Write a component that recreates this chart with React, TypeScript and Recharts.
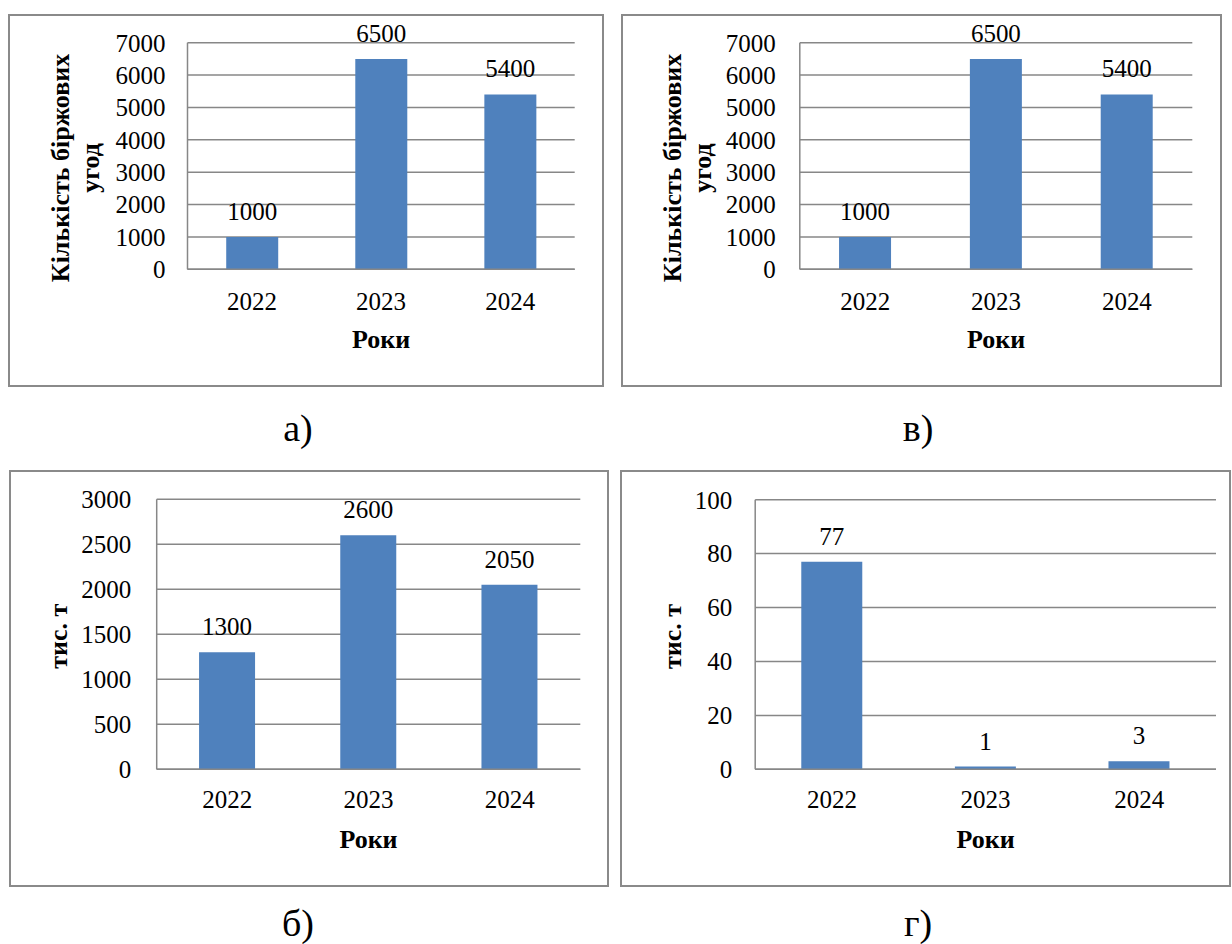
import React from 'react';
import { BarChart, Bar, XAxis, YAxis, CartesianGrid, LabelList, Label } from 'recharts';

// years on the x axis (same for all four panels)
const years = ['2022', '2023', '2024'];

// а) and в) - number of exchange deals
const dealsA = [1000, 6500, 5400];
const dealsV = [1000, 6500, 5400];
const dealTicks = [0, 1000, 2000, 3000, 4000, 5000, 6000, 7000];

// б) and г) - thousand tonnes
const tonsB = [1300, 2600, 2050];
const tonsG = [77, 1, 3];
const tonTicksB = [0, 500, 1000, 1500, 2000, 2500, 3000];
const tonTicksG = [0, 20, 40, 60, 80, 100];

const dealsTitle = ['Кількість біржових', 'угод'];
const tonsTitle = ['тис. т'];
const xTitle = 'Роки';

const FONT = "Liberation Serif, Times New Roman, Times, Tinos, Nimbus Roman, DejaVu Serif, serif";
const GRID = '#878787';
const BAR = '#4F81BD';

type Margins = { left: number; top: number; right: number; bottom: number };

interface PanelProps {
  values: number[];
  ticks: number[];
  title: string[];
  box: { left: number; top: number; width: number; height: number };
  plot: Margins;
  titleX: number[];
  titleY: number;
  yTickGap: number;
  xTickGap: number;
}

const Panel: React.FC<PanelProps> = ({ values, ticks, title, box, plot, titleX, titleY, yTickGap, xTickGap }) => {
  const data = years.map((year, i) => ({ year, value: values[i] }));
  const plotW = box.width - plot.left - plot.right;
  const plotH = box.height - plot.top - plot.bottom;
  const tick = { fill: '#000', fontSize: 25, fontFamily: FONT };

  const renderXTitle = () => (
    <text
      x={plot.left + plotW / 2}
      y={plot.top + plotH + 78.7}
      textAnchor="middle"
      style={{ fontFamily: FONT }}
      fontSize={26}
      fontWeight="bold"
      fill="#000"
    >
      {xTitle}
    </text>
  );

  const renderYTitle = () => {
    const cy = plot.top + plotH / 2 + titleY;
    return (
      <g>
        {title.map((line, i) => (
          <text
            key={line}
            x={titleX[i]}
            y={cy}
            transform={`rotate(-90 ${titleX[i]} ${cy})`}
            textAnchor="middle"
            style={{ fontFamily: FONT }}
            fontSize={26}
            fontWeight="bold"
            fill="#000"
          >
            {line}
          </text>
        ))}
      </g>
    );
  };

  return (
    <div
      style={{
        position: 'absolute',
        left: box.left,
        top: box.top,
        width: box.width,
        height: box.height,
        boxShadow: 'inset 0 0 0 2px #8a8a8a',
        fontFamily: FONT,
      }}
    >
      <BarChart
        width={box.width}
        height={box.height}
        data={data}
        margin={{ top: plot.top, right: plot.right, left: 0, bottom: 0 }}
        barCategoryGap="30%"
        style={{ fontFamily: FONT }}
      >
        <CartesianGrid vertical={false} stroke={GRID} strokeWidth={1.5} />
        <XAxis
          dataKey="year"
          height={plot.bottom}
          interval={0}
          tickLine={false}
          tickSize={0}
          tickMargin={xTickGap}
          axisLine={{ stroke: GRID, strokeWidth: 1.5 }}
          tick={tick}
        >
          <Label content={renderXTitle} />
        </XAxis>
        <YAxis
          width={plot.left}
          domain={[0, ticks[ticks.length - 1]]}
          ticks={ticks}
          interval={0}
          tickLine={false}
          tickSize={0}
          tickMargin={yTickGap}
          axisLine={{ stroke: GRID, strokeWidth: 1.5 }}
          tick={tick}
        >
          <Label content={renderYTitle} />
        </YAxis>
        <Bar dataKey="value" fill={BAR} isAnimationActive={false}>
          <LabelList dataKey="value" position="top" offset={17} fill="#000" fontSize={25} fontFamily={FONT} />
        </Bar>
      </BarChart>
    </div>
  );
};

const Caption: React.FC<{ text: string; x: number; baseline: number }> = ({ text, x, baseline }) => (
  <div
    style={{
      position: 'absolute',
      left: x - 40,
      top: baseline - 32,
      width: 80,
      textAlign: 'center',
      fontFamily: FONT,
      fontSize: 38,
      lineHeight: '38px',
      color: '#000',
    }}
  >
    {text}
  </div>
);

export default function App() {
  return (
    <div style={{ position: 'absolute', left: 0, top: 0, width: 1232, height: 944, background: '#fff', fontFamily: FONT }}>
      <Panel
        values={dealsA}
        ticks={dealTicks}
        title={dealsTitle}
        box={{ left: 8, top: 14, width: 596, height: 373 }}
        plot={{ left: 179.5, top: 28.7, right: 29.3, bottom: 117.7 }}
        titleX={[61, 91]}
        titleY={12}
        yTickGap={22}
        xTickGap={23}
      />
      <Panel
        values={dealsV}
        ticks={dealTicks}
        title={dealsTitle}
        box={{ left: 620.7, top: 14, width: 601.3, height: 373 }}
        plot={{ left: 178.8, top: 28.7, right: 30, bottom: 117.7 }}
        titleX={[60.5, 90.5]}
        titleY={12}
        yTickGap={24}
        xTickGap={23}
      />
      <Panel
        values={tonsB}
        ticks={tonTicksB}
        title={tonsTitle}
        box={{ left: 9, top: 470, width: 600, height: 417 }}
        plot={{ left: 147.7, top: 29.3, right: 28.7, bottom: 117.7 }}
        titleX={[58.5]}
        titleY={2}
        yTickGap={25.5}
        xTickGap={21}
      />
      <Panel
        values={tonsG}
        ticks={tonTicksG}
        title={tonsTitle}
        box={{ left: 620, top: 470, width: 611, height: 417 }}
        plot={{ left: 135.2, top: 29.7, right: 15, bottom: 117.7 }}
        titleX={[60.5]}
        titleY={2}
        yTickGap={23}
        xTickGap={21}
      />
      <Caption text="а)" x={298} baseline={441} />
      <Caption text="в)" x={918} baseline={441} />
      <Caption text="б)" x={298} baseline={936} />
      <Caption text="г)" x={918} baseline={936} />
    </div>
  );
}
